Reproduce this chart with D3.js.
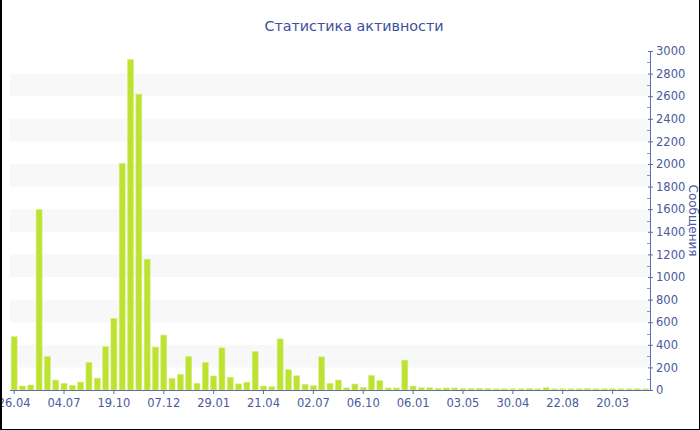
<!DOCTYPE html>
<html>
<head>
<meta charset="utf-8">
<script src="https://cdn.jsdelivr.net/npm/d3@7/dist/d3.min.js"></script>
<style>
  html, body { margin: 0; padding: 0; background: #fff; }
  svg { display: block; }
  text { font-family: "DejaVu Sans", Verdana, sans-serif; }
</style>
</head>
<body>
<svg id="chart" width="700" height="430"></svg>
<script>
const title = "Статистика активности";
const yTitle = "Сообщения";
const tickLabels = ["26.04","04.07","19.10","07.12","29.01","21.04","02.07","06.10","06.01","03.05","30.04","22.08","20.03"];
const tickEvery = 6;
const values = [
  472, 35, 44, 1597, 297, 88, 59, 42, 70, 245,
  105, 384, 634, 2005, 2924, 2618, 1158, 379, 486, 104,
  139, 296, 59, 245, 124, 373, 113, 54, 69, 341,
  35, 28, 452, 179, 126, 51, 38, 293, 59, 88,
  19, 53, 24, 129, 82, 18, 18, 264, 35, 20,
  20, 15, 18, 18, 12, 12, 15, 12, 10, 10,
  10, 10, 12, 10, 20, 10, 10, 10, 10, 12,
  10, 10, 10, 10, 10, 10, 10
];
const yMax = 3000;
const yStep = 200;

const W = 700, H = 430;
const plot = { left: 10, right: 650, top: 51, bottom: 390 };
const svg = d3.select("#chart");
const textColor = "#4a5a9c";
const axisColor = "#5d6eac";

const x = d3.scaleBand()
  .domain(d3.range(values.length))
  .range([plot.left, plot.right])
  .paddingInner(0.28)
  .paddingOuter(0.14);
const y = d3.scaleLinear().domain([0, yMax]).range([plot.bottom, plot.top]);

// alternating bands
const bandStarts = d3.range(yStep, yMax, yStep * 2);
svg.append("g").selectAll("rect").data(bandStarts).join("rect")
  .attr("x", plot.left)
  .attr("width", plot.right - plot.left)
  .attr("y", d => y(d + yStep))
  .attr("height", d => y(d) - y(d + yStep))
  .attr("fill", "#f8f8f8");

// bars
svg.append("g").selectAll("rect").data(values).join("rect")
  .attr("x", (d, i) => x(i))
  .attr("width", x.bandwidth())
  .attr("y", d => y(d))
  .attr("height", d => y(0) - y(d))
  .attr("fill", "#bde232")
  .attr("stroke", "#d6ee7e")
  .attr("stroke-width", 0.6);

// x axis
const xTicks = d3.range(0, values.length, tickEvery).filter(i => i / tickEvery < tickLabels.length);
const xAxis = d3.axisBottom(x)
  .tickValues(xTicks)
  .tickFormat(i => tickLabels[i / tickEvery])
  .tickSize(4)
  .tickSizeOuter(0);
const gx = svg.append("g").attr("transform", `translate(0,${plot.bottom})`).call(xAxis);
gx.select(".domain").attr("stroke", axisColor).attr("d", `M${plot.left},0.5H${plot.right}`);
gx.selectAll(".tick line").attr("stroke", axisColor);
gx.selectAll(".tick text").attr("fill", textColor).attr("font-size", "11.5px").attr("dy", "0.9em")
  .attr("font-family", "DejaVu Sans, Verdana, sans-serif");

// y axis (right)
const yAxis = d3.axisRight(y)
  .tickValues(d3.range(0, yMax + 1, yStep))
  .tickFormat(d3.format("d"))
  .tickSize(3)
  .tickPadding(3)
  .tickSizeOuter(0);
const gy = svg.append("g").attr("transform", `translate(${plot.right},0)`).call(yAxis);
gy.select(".domain").attr("stroke", axisColor);
gy.selectAll(".tick line").attr("stroke", axisColor).attr("x1", -2);
gy.selectAll(".tick text").attr("fill", textColor).attr("font-size", "11.5px")
  .attr("font-family", "DejaVu Sans, Verdana, sans-serif");
// minor ticks
const minor = d3.range(yStep / 2, yMax, yStep);
svg.append("g").selectAll("line").data(minor).join("line")
  .attr("x1", plot.right - 3).attr("x2", plot.right)
  .attr("y1", d => Math.round(y(d)) + 0.5).attr("y2", d => Math.round(y(d)) + 0.5)
  .attr("stroke", "#8a96c4").attr("stroke-width", 1);

// y title
svg.append("text")
  .attr("transform", `translate(689,${(plot.top + plot.bottom) / 2}) rotate(90)`)
  .attr("text-anchor", "middle")
  .attr("fill", textColor)
  .attr("font-size", "12px")
  .text(yTitle);

// title
svg.append("text")
  .attr("x", 354).attr("y", 31)
  .attr("text-anchor", "middle")
  .attr("fill", "#3e4f9e")
  .attr("font-size", "14.3px")
  .text(title);

// frame
svg.append("line").attr("x1", 1).attr("x2", 1).attr("y1", 0).attr("y2", H).attr("stroke", "#000").attr("stroke-width", 2);
svg.append("line").attr("x1", W - 0.5).attr("x2", W - 0.5).attr("y1", 0).attr("y2", H).attr("stroke", "#000");
svg.append("line").attr("x1", 0).attr("x2", W).attr("y1", H - 0.5).attr("y2", H - 0.5).attr("stroke", "#000");
</script>
</body>
</html>
